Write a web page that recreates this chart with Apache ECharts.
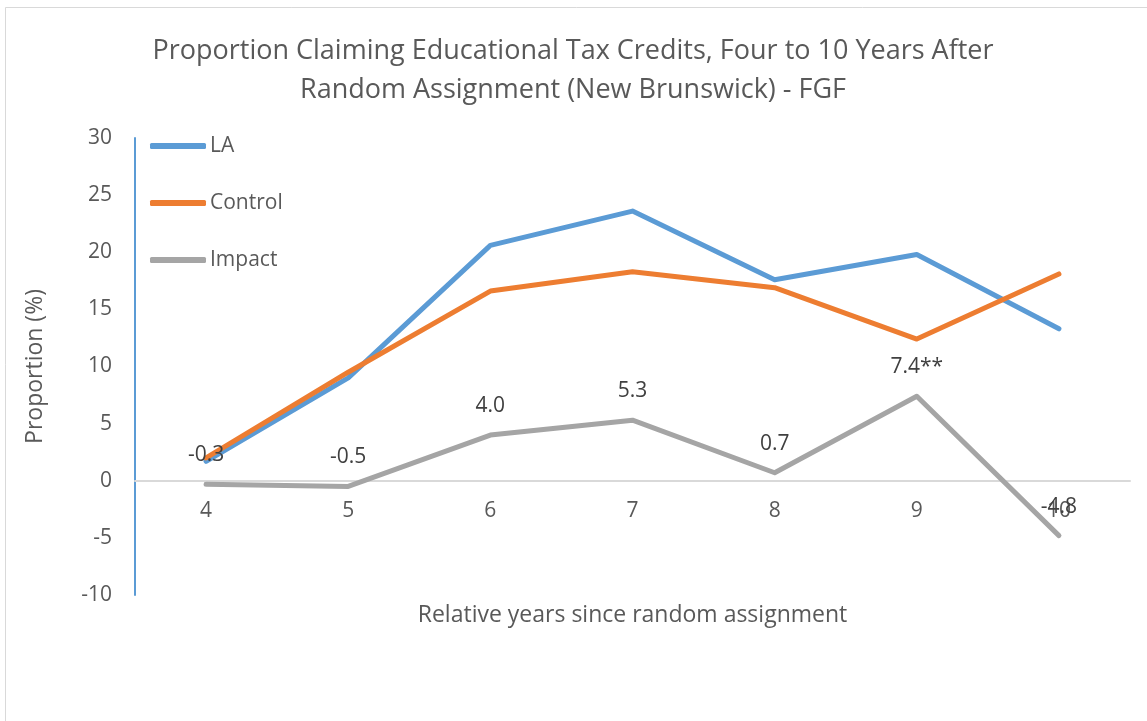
<!DOCTYPE html>
<html>
<head>
<meta charset="utf-8">
<script src="https://cdn.jsdelivr.net/npm/echarts@6/dist/echarts.min.js"></script>
<style>html,body{margin:0;padding:0;background:#fff}#c{width:1147px;height:721px}</style>
</head>
<body>
<div id="c"></div>
<script>
const categories = ['4', '5', '6', '7', '8', '9', '10'];
const laValues = [1.7, 9.0, 20.6, 23.6, 17.6, 19.8, 13.3];
const controlValues = [2.0, 9.5, 16.6, 18.3, 16.9, 12.4, 18.1];
const impactValues = [-0.3, -0.5, 4.0, 5.3, 0.7, 7.4, -4.8];
const impactLabels = ['-0.3', '-0.5', '4.0', '5.3', '0.7', '7.4**', '-4.8'];
const yTicks = { min: -10, max: 30, interval: 5 };

const FONT = '"Open Sans", "Liberation Sans", sans-serif';
const GRID = { left: 135, right: 17, top: 138, bottom: 126 };
const plotH = 721 - GRID.top - GRID.bottom;
const zeroOffset = -plotH * (0 - yTicks.min) / (yTicks.max - yTicks.min);

const chart = echarts.init(document.getElementById('c'), null, { renderer: 'canvas' });
chart.setOption({
  animation: false,
  backgroundColor: '#fff',
  graphic: [{
    type: 'rect', left: 3, top: 5, z: -10,
    shape: { width: 1160, height: 730 },
    style: { fill: 'none', stroke: '#d9d9d9', lineWidth: 1 }
  }],
  title: {
    text: 'Proportion Claiming Educational Tax Credits, Four to 10 Years After\nRandom Assignment (New Brunswick) - FGF',
    left: 568, textAlign: 'center', top: 27,
    textStyle: { fontFamily: FONT, fontSize: 27, fontWeight: 'normal', color: '#595959', lineHeight: 39 }
  },
  legend: {
    orient: 'vertical', left: 150, top: 134, padding: 0,
    itemWidth: 56, itemHeight: 6, itemGap: 33,
    icon: 'roundRect',
    textStyle: { fontFamily: FONT, fontSize: 21, color: '#595959', lineHeight: 24, padding: [0, 0, 0, -1] },
    data: ['LA', 'Control', 'Impact']
  },
  grid: Object.assign({ containLabel: false, outerBoundsMode: 'none' }, GRID),
  xAxis: {
    type: 'category', data: categories, boundaryGap: true,
    offset: zeroOffset,
    name: 'Relative years since random assignment', nameLocation: 'middle', nameGap: 123,
    nameTextStyle: { fontFamily: FONT, fontSize: 23, color: '#595959' },
    axisLine: { onZero: false, lineStyle: { color: '#d9d9d9', width: 2 } },
    axisTick: { show: false },
    axisLabel: { fontFamily: FONT, fontSize: 21, color: '#595959', margin: 20 },
    splitLine: { show: false }
  },
  yAxis: {
    type: 'value', min: yTicks.min, max: yTicks.max, interval: yTicks.interval,
    name: 'Proportion (%)', nameLocation: 'middle', nameGap: 88, nameRotate: 90,
    nameTextStyle: { fontFamily: FONT, fontSize: 23, color: '#595959' },
    axisLine: { show: true, lineStyle: { color: '#5B9BD5', width: 2 } },
    axisTick: { show: false },
    axisLabel: { fontFamily: FONT, fontSize: 21, color: '#595959', margin: 23 },
    splitLine: { show: false }
  },
  series: [
    { name: 'LA', type: 'line', data: laValues, symbol: 'none',
      lineStyle: { color: '#5B9BD5', width: 5, cap: 'round', join: 'round' }, itemStyle: { color: '#5B9BD5' } },
    { name: 'Control', type: 'line', data: controlValues, symbol: 'none',
      lineStyle: { color: '#ED7D31', width: 5, cap: 'round', join: 'round' }, itemStyle: { color: '#ED7D31' } },
    { name: 'Impact', type: 'line', data: impactValues, symbol: 'circle', symbolSize: 1, showSymbol: true,
      lineStyle: { color: '#A5A5A5', width: 5, cap: 'round', join: 'round' }, itemStyle: { color: '#A5A5A5' },
      label: { show: true, position: 'top', distance: 18, fontFamily: FONT, fontSize: 21, color: '#404040',
        formatter: p => impactLabels[p.dataIndex] } }
  ]
});
</script>
</body>
</html>
